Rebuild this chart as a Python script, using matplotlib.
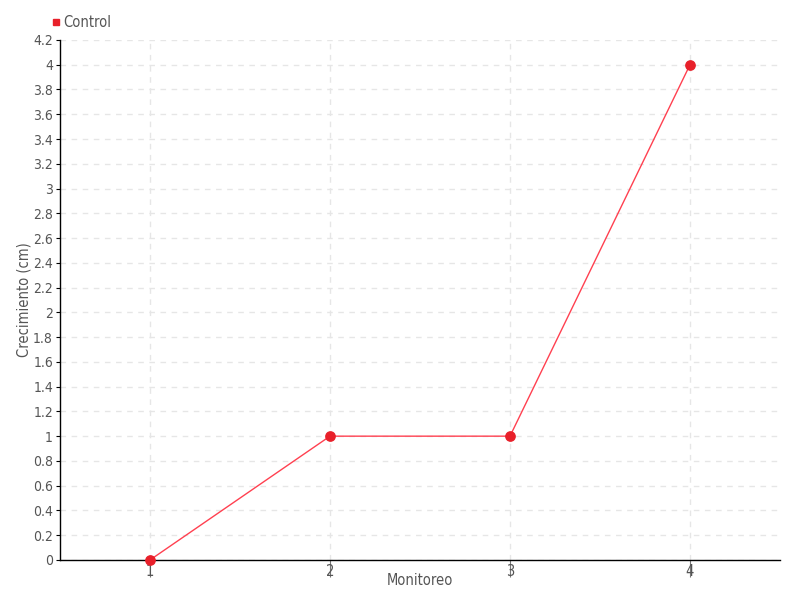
import matplotlib
matplotlib.use("Agg")
import matplotlib.pyplot as plt
import numpy as np
from matplotlib.lines import Line2D

monitoreo = [1, 2, 3, 4]
control = [0, 1, 1, 4]
yticks = [round(0.2 * i, 1) for i in range(22)]

plt.rcParams['font.family'] = ['DejaVu Sans']
plt.rcParams['font.stretch'] = 'condensed'

fig = plt.figure(figsize=(8, 6), dpi=100)
ax = fig.add_axes([0.075, 0.0667, 0.9, 0.8667])

ax.plot(monitoreo, control, color='#ff4050', lw=1, zorder=3)
ax.scatter(monitoreo, control, s=45, color='#e8202a', zorder=4, clip_on=False)

ax.set_xlim(0.5, 4.5)
ax.set_ylim(0, 4.2)
ax.set_xticks(monitoreo)
ax.set_xticklabels([str(m) for m in monitoreo])
ax.set_yticks(yticks)
ax.set_yticklabels([('%g' % t) for t in yticks])

ax.grid(True, color='#e6e6e6', linestyle=(0, (4, 4)), lw=1)
ax.set_axisbelow(True)
for s in ['top', 'right']:
    ax.spines[s].set_visible(False)
for s in ['left', 'bottom']:
    ax.spines[s].set_color('black')
    ax.spines[s].set_linewidth(1)

ax.tick_params(axis='y', length=3, color='black', labelsize=10, labelcolor='#555555', pad=2)
ax.tick_params(axis='x', length=12, color='#777777', labelsize=10.5, labelcolor='#555555', pad=-9)

ax.set_xlabel('Monitoreo', fontsize=10.5, color='#555555')
ax.set_ylabel('Crecimiento (cm)', fontsize=10.5, color='#555555')
ax.xaxis.set_label_coords(0.5, -0.040)
ax.yaxis.set_label_coords(-0.050, 0.5)
ax.xaxis.label.set_va('center')
ax.yaxis.label.set_va('center')

handle = Line2D([], [], marker='s', color='#e8202a', linestyle='none', markersize=5)
leg = fig.legend([handle], ['Control'], loc='upper left', bbox_to_anchor=(0.055, 0.985),
                 frameon=False, fontsize=10.5, handletextpad=0.1, handlelength=0.8,
                 labelcolor='#555555', borderaxespad=0)

fig.savefig('out.png', dpi=100)
